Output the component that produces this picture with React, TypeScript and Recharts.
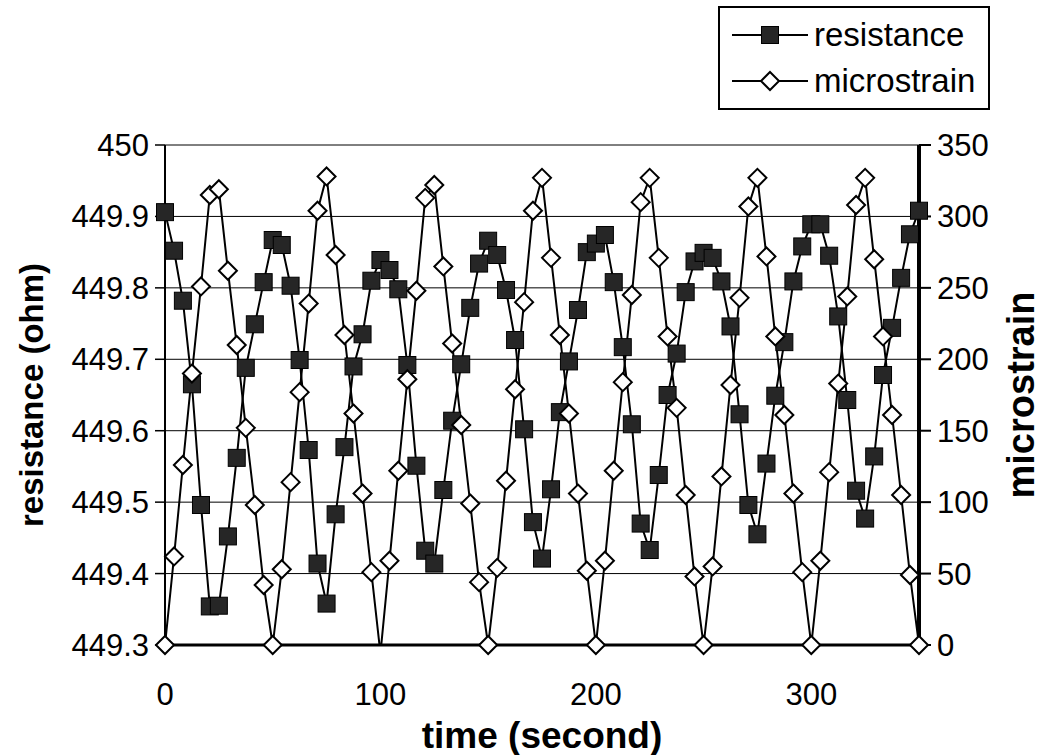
import React from "react";
import { LineChart, Line, XAxis, YAxis, CartesianGrid, Legend } from "recharts";

const times = [
  0, 4.2, 8.3, 12.5, 16.7, 20.8, 25, 29.2, 33.3, 37.5, 41.7, 45.8, 50, 54.2, 58.3, 62.5, 66.7, 70.8, 75, 79.2, 83.3,
  87.5, 91.7, 95.8, 100, 104.2, 108.3, 112.5, 116.7, 120.8, 125, 129.2, 133.3, 137.5, 141.7, 145.8, 150, 154.2, 158.3,
  162.5, 166.7, 170.8, 175, 179.2, 183.3, 187.5, 191.7, 195.8, 200, 204.2, 208.3, 212.5, 216.7, 220.8, 225, 229.2,
  233.3, 237.5, 241.7, 245.8, 250, 254.2, 258.3, 262.5, 266.7, 270.8, 275, 279.2, 283.3, 287.5, 291.7, 295.8, 300,
  304.2, 308.3, 312.5, 316.7, 320.8, 325, 329.2, 333.3, 337.5, 341.7, 345.8, 350,
];

const resistance = [
  449.906, 449.852, 449.782, 449.665, 449.496, 449.354, 449.355, 449.452, 449.562, 449.688, 449.749, 449.808, 449.867,
  449.86, 449.803, 449.699, 449.573, 449.414, 449.358, 449.483, 449.577, 449.69, 449.735, 449.81, 449.839, 449.825,
  449.798, 449.692, 449.551, 449.432, 449.414, 449.517, 449.614, 449.693, 449.772, 449.834, 449.866, 449.846, 449.797,
  449.727, 449.602, 449.472, 449.421, 449.518, 449.626, 449.697, 449.769, 449.85, 449.862, 449.874, 449.808, 449.717,
  449.609, 449.47, 449.433, 449.538, 449.65, 449.708, 449.794, 449.837, 449.849, 449.842, 449.809, 449.746, 449.623,
  449.496, 449.455, 449.554, 449.649, 449.724, 449.809, 449.858, 449.889, 449.889, 449.845, 449.76, 449.643, 449.516,
  449.477, 449.564, 449.678, 449.744, 449.814, 449.875, 449.908,
];

const microstrain = [
  0, 62, 126, 190, 251, 315, 319, 262, 210, 152, 98, 42, 0,
  53, 114, 177, 239, 304, 328, 273, 217, 162, 106, 51, -6,
  59, 122, 186, 248, 313, 322, 265, 211, 154, 99, 44, 0,
  54, 115, 179, 240, 304, 327, 271, 217, 162, 106, 52, 0,
  59, 122, 184, 245, 310, 327, 271, 216, 166, 105, 48, 0,
  55, 118, 182, 243, 307, 327, 272, 216, 161, 106, 51, 0,
  59, 121, 183, 244, 308, 327, 270, 216, 161, 105, 49, 0,
];

const timeTicks = [0, 100, 200, 300];
const resistanceTicks = [449.3, 449.4, 449.5, 449.6, 449.7, 449.8, 449.9, 450];
const strainTicks = [0, 50, 100, 150, 200, 250, 300, 350];

const data = times.map((t, i) => ({ t, resistance: resistance[i], microstrain: microstrain[i] }));

// markers that fall below the axis are not drawn (as in the original)
const strainMarker = (d: any) => (d.microstrain >= 0 ? d.microstrain : null);

const FONT = "'Liberation Sans', Arial, sans-serif";

const SquareDot = ({ cx, cy }: any) => {
  if (cx == null || cy == null) return <g />;
  return <rect x={cx - 8.5} y={cy - 8.5} width={17} height={17} fill="#262626" stroke="#000" strokeWidth={1} />;
};

const DiamondDot = ({ cx, cy, value }: any) => {
  if (cx == null || cy == null || value == null) return <g />;
  const r = 9;
  return (
    <polygon
      points={`${cx},${cy - r} ${cx + r},${cy} ${cx},${cy + r} ${cx - r},${cy}`}
      fill="#fff"
      stroke="#000"
      strokeWidth={2}
    />
  );
};

const LegendBox = () => (
  <div
    style={{
      width: 272,
      boxSizing: "border-box",
      border: "2px solid #000",
      background: "#fff",
      padding: "4px 0 4px 12px",
      fontFamily: FONT,
      fontSize: 33,
      lineHeight: "46px",
    }}
  >
    {[
      { name: "resistance", Dot: SquareDot },
      { name: "microstrain", Dot: DiamondDot },
    ].map(({ name, Dot }) => (
      <div key={name} style={{ display: "flex", alignItems: "center" }}>
        <svg width={76} height={30} style={{ marginRight: 6 }}>
          <line x1={0} y1={15} x2={76} y2={15} stroke="#000" strokeWidth={2} />
          <Dot cx={38} cy={15} value={1} />
        </svg>
        <span>{name}</span>
      </div>
    ))}
  </div>
);

const VTitle = ({ viewBox, value, cx, size }: any) => {
  const cy = viewBox.y + viewBox.height / 2;
  return (
    <text
      x={cx}
      y={cy}
      transform={`rotate(-90 ${cx} ${cy})`}
      textAnchor="middle"
      dominantBaseline="central"
      fontFamily={FONT}
      fontSize={size}
      fontWeight="bold"
      fill="#000"
    >
      {value}
    </text>
  );
};

const XTitle = ({ viewBox }: any) => (
  <text
    x={viewBox.x + viewBox.width / 2}
    y={735}
    textAnchor="middle"
    dominantBaseline="central"
    fontFamily={FONT}
    fontSize={37}
    fontWeight="bold"
    fill="#000"
  >
    time (second)
  </text>
);

const tickStyle = { fontFamily: FONT, fontSize: 31, fill: "#000" };

export default function App() {
  return (
    <div style={{ position: "absolute", left: 0, top: 0, background: "#fff" }}>
      <LineChart width={1047} height={755} data={data} margin={{ top: 145, right: 28, bottom: 50, left: 65 }}>
        <CartesianGrid vertical={false} stroke="#000" strokeWidth={1} yAxisId="left" />
        <XAxis
          type="number"
          dataKey="t"
          domain={[0, 350]}
          ticks={timeTicks}
          tickLine={false}
          tickSize={10}
          tickMargin={28}
          height={60}
          axisLine={{ stroke: "#000", strokeWidth: 3 }}
          tick={tickStyle}
          label={{ content: (p: any) => <XTitle {...p} /> }}
        />
        <YAxis
          yAxisId="left"
          orientation="left"
          domain={[449.3, 450]}
          ticks={resistanceTicks}
          interval={0}
          width={100}
          tickSize={10}
          tickMargin={6}
          tickFormatter={(v: number) => String(Number(v.toFixed(1)))}
          axisLine={{ stroke: "#000", strokeWidth: 2 }}
          tickLine={{ stroke: "#000", strokeWidth: 1.5 }}
          tick={tickStyle}
          label={{ content: (p: any) => <VTitle {...p} value="resistance (ohm)" cx={31} size={33} /> }}
        />
        <YAxis
          yAxisId="right"
          orientation="right"
          domain={[0, 350]}
          allowDataOverflow
          ticks={strainTicks}
          interval={0}
          width={100}
          tickSize={12}
          tickMargin={6}
          axisLine={{ stroke: "#000", strokeWidth: 4 }}
          tickLine={{ stroke: "#000", strokeWidth: 2 }}
          tick={tickStyle}
          label={{ content: (p: any) => <VTitle {...p} value="microstrain" cx={1021} size={38} /> }}
        />
        <YAxis yAxisId="markers" orientation="right" domain={[0, 350]} width={0} hide />
        <Legend
          layout="vertical"
          align="center"
          verticalAlign="middle"
          wrapperStyle={{ left: 718, top: 6, width: "auto" }}
          content={() => <LegendBox />}
        />
        <Line
          yAxisId="left"
          type="linear"
          dataKey="resistance"
          name="resistance"
          stroke="#000"
          strokeWidth={2}
          dot={(p: any) => <SquareDot key={`s-${p.index}`} {...p} />}
          activeDot={false}
          isAnimationActive={false}
        />
        <Line
          yAxisId="right"
          type="linear"
          dataKey="microstrain"
          name="microstrain"
          stroke="#000"
          strokeWidth={2}
          dot={false}
          activeDot={false}
          isAnimationActive={false}
        />
        <Line
          yAxisId="markers"
          type="linear"
          dataKey={strainMarker}
          name="microstrain markers"
          stroke="none"
          legendType="none"
          dot={(p: any) => <DiamondDot key={`d-${p.index}`} {...p} />}
          activeDot={false}
          isAnimationActive={false}
        />
      </LineChart>
    </div>
  );
}
